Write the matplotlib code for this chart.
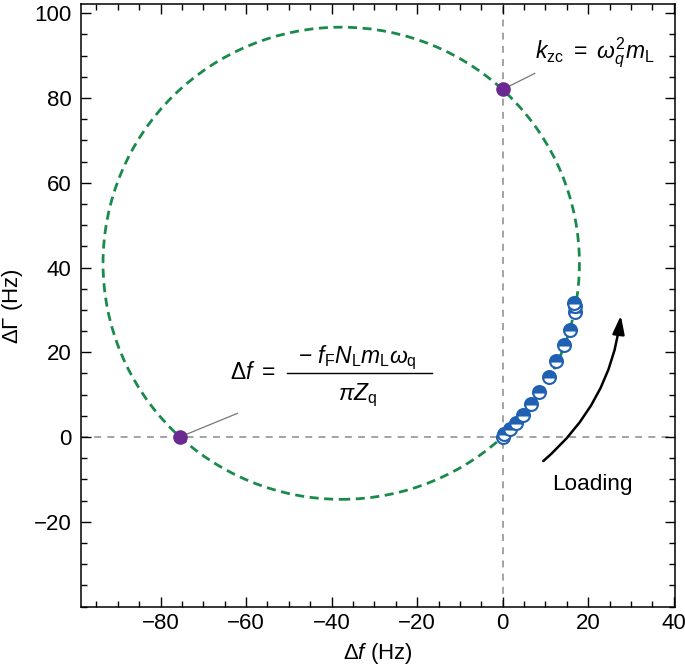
import matplotlib
matplotlib.use("Agg")
import matplotlib.pyplot as plt
from matplotlib.patches import Circle, FancyArrowPatch
from matplotlib.ticker import MultipleLocator, FixedLocator
import numpy as np

plt.rcParams['font.family'] = ['Liberation Sans', 'DejaVu Sans']
plt.rcParams['mathtext.fontset'] = 'custom'
plt.rcParams['mathtext.rm'] = 'Liberation Sans'
plt.rcParams['mathtext.it'] = 'Liberation Sans:italic'
plt.rcParams['mathtext.bf'] = 'Liberation Sans:bold'
plt.rcParams['mathtext.sf'] = 'Liberation Sans'
plt.rcParams['lines.scale_dashes'] = False

# ---- data ----
delta_f = [0.0, 0.25, 1.65, 3.05, 4.75, 6.7, 8.5, 10.8, 12.4, 14.25, 15.65, 17.0, 16.9, 16.75]
delta_gamma = [0.1, 0.7, 1.8, 3.4, 5.2, 7.9, 10.6, 14.1, 17.9, 21.6, 25.3, 29.4, 30.8, 31.7]

circle_center = (-37.75, 41.0)
circle_radius = 55.7

kzc_point = (0.0, 82.0)
df_point = (-75.5, 0.0)

x_ticks = [-80, -60, -40, -20, 0, 20, 40]
y_ticks = [-20, 0, 20, 40, 60, 80, 100]

green = '#1a8a4c'
blue = '#1f60b2'
purple = '#6a2a92'
gray = '#8a8a8a'

fig = plt.figure(figsize=(6.85, 6.69), dpi=100)
ax = fig.add_axes([81/685, 1-607/669, (675-81)/685, (607-4.3)/669])
ax.set_xlim(-98.6, 40.3)
ax.set_ylim(-40.1, 102.1)

# reference axes
ax.axhline(0, color=gray, lw=1.1, ls=(0, (5.0, 4.5)), zorder=1)
ax.axvline(0, color=gray, lw=1.1, ls=(0, (5.0, 4.5)), zorder=1)

# circle
circ = Circle(circle_center, circle_radius, fill=False, edgecolor=green, lw=2.0,
              ls=(0, (6.5, 4.0)), zorder=2)
ax.add_patch(circ)

# data markers (half filled)
ax.plot(delta_f, delta_gamma, ls='none', marker='o', ms=9.3, fillstyle='top',
        markerfacecolor=blue, markerfacecoloralt='white', markeredgecolor=blue,
        markeredgewidth=1.5, zorder=4)

# purple points
ax.plot([kzc_point[0], df_point[0]], [kzc_point[1], df_point[1]], ls='none', marker='o',
        ms=9.5, color=purple, zorder=5)

# leader lines
ax.plot([kzc_point[0], 7.5], [kzc_point[1], 85.8], color='#777777', lw=0.9, zorder=3)
ax.plot([df_point[0], -62.0], [df_point[1], 5.6], color='#777777', lw=0.9, zorder=3)

# annotations
ax.text(7.5, 89.4, r'$k_{\rm zc}\ =\ \omega_q^2 m_{\rm L}$', fontsize=16.5, ha='left',
        va='baseline')
ax.text(-63.8, 13.7, r'$\Delta f\ =$', fontsize=16.5, ha='left', va='baseline')
ax.text(-33.9, 17.5, r'$-\ f_{\rm F}N_{\rm L}m_{\rm L}\omega_{\rm q}$', fontsize=16.5,
        ha='center', va='baseline')
ax.plot([-50.5, -16.6], [15.1, 15.1], color='black', lw=1.0)
ax.text(-33.9, 8.7, r'$\pi Z_{\rm q}$', fontsize=16.5, ha='center', va='baseline')

# loading arrow
arr = FancyArrowPatch((9.0, -6.1), (27.7, 29.3), connectionstyle='arc3,rad=0.2',
                      arrowstyle='-|>,head_length=0.55,head_width=0.18', color='black',
                      lw=1.8, mutation_scale=20, zorder=6)
ax.add_patch(arr)
ax.text(21.0, -11.3, 'Loading', fontsize=16.2, ha='center', va='center')

# ticks
ax.xaxis.set_major_locator(FixedLocator(x_ticks))
ax.yaxis.set_major_locator(FixedLocator(y_ticks))
ax.xaxis.set_minor_locator(MultipleLocator(5))
ax.yaxis.set_minor_locator(MultipleLocator(5))
ax.set_xticklabels([f'\u2212{abs(v)}' if v < 0 else str(v) for v in x_ticks])
ax.set_yticklabels([f'\u2212{abs(v)}' if v < 0 else str(v) for v in y_ticks])
ax.tick_params(which='both', direction='in', top=True, right=True, width=1.0,
               labelsize=16)
ax.tick_params(which='major', length=7)
ax.tick_params(which='minor', length=4.3)
ax.tick_params(axis='x', pad=4)
ax.tick_params(axis='y', pad=7)
for s in ax.spines.values():
    s.set_linewidth(1.1)

ax.set_xlabel(r'$\Delta f\ \rm (Hz)$', fontsize=16)
ax.set_ylabel(r'$\Delta\Gamma\ \rm (Hz)$', fontsize=16)
ax.xaxis.set_label_coords(0.5, (607-641)/602.7)
ax.yaxis.set_label_coords((25-81)/594, 0.5)

fig.savefig('out.png', dpi=100)
